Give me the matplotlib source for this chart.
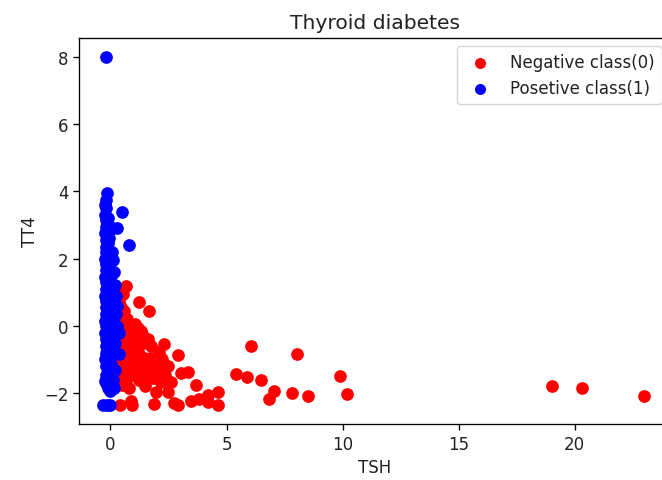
import matplotlib.pyplot as plt

# TSH / TT4 (standardised) for the negative class
neg_tsh = [0.65, 0.56, 1.21, 1.65, 0.56, 0.65, 1.38, 1.0, 1.6, 2.3, 2.08, 2.9,
           6.06, 1.0, 1.3, 1.86, 3.33, 5.4, 5.9, 6.49, 0.56, 1.5, 2.16, 2.6,
           3.68, 1.95, 2.47, 4.2, 4.63, 7.05, 6.84, 0.87, 0.95, 1.86, 2.9,
           3.46, 3.81, 4.2, 4.63, 0.4, 8.05, 9.9, 10.2, 7.8, 8.5, 19.0, 20.3,
           23.0, 0.3, 0.45, 0.7, 0.9, 1.1, 0.35, 0.5, 0.8, 1.2, 1.45, 0.3,
           0.6, 0.75, 1.0, 1.25, 1.7, 0.4, 0.55, 0.9, 1.15, 1.4, 1.75, 2.0,
           0.3, 0.65, 0.85, 1.1, 1.35, 1.6, 1.9, 0.45, 0.7, 1.05, 1.3, 0.35,
           0.6, 0.95, 1.2, 2.2, 2.5, 0.5, 0.8, 1.5, 0.3, 0.4, 0.55, 0.25,
           0.35, 1.8, 2.35, 2.75, 3.05, 0.7, 1.25,
           0.3, 0.45, 0.6, 0.75, 0.95, 1.1, 1.3, 1.45, 1.6, 1.75, 0.4, 0.55,
           0.85, 1.15, 1.35, 0.25, 0.3, 0.5, 0.7, 2.1, 2.4, 1.9, 0.3, 0.35,
           0.4, 0.5]
neg_tt4 = [1.19, 0.95, 0.71, 0.45, 0.30, 0.12, -0.24, -0.39, -0.39, -0.53,
           -0.77, -0.86, -0.59, -0.70, -1.07, -1.19, -1.36, -1.42, -1.51,
           -1.60, -1.50, -1.78, -1.66, -1.66, -1.75, -1.96, -1.96, -2.05,
           -1.96, -1.93, -2.17, -2.23, -2.35, -2.32, -2.35, -2.23, -2.17,
           -2.26, -2.35, -2.35, -0.83, -1.48, -2.02, -2.00, -2.10, -1.80,
           -1.85, -2.10, 0.9, 0.55, 0.2, -0.1, -0.25, -0.4, -0.55, -0.5,
           -0.6, -0.45, -0.75, -0.9, -0.7, -1.0, -0.85, -0.95, -1.1, -1.2,
           -1.3, -1.15, -1.25, -1.4, -1.3, -1.45, -1.55, -1.35, -1.5, -1.6,
           -1.45, -1.2, -0.2, 0.0, 0.05, -0.15, 0.6, 0.45, -0.3, -0.05, -1.0,
           -1.2, -1.7, -1.85, -1.65, -0.95, -0.3, -0.65, 0.1, -1.1, -1.55,
           -1.45, -2.3, -1.4, -0.6, -1.6,
           -0.6, -0.8, -1.1, -1.3, -0.55, -0.75, -0.55, -0.95, -1.15, -0.6,
           -1.35, -0.35, -0.2, -1.5, -1.25, -1.0, -1.6, -1.75, -1.55, -1.35,
           -1.2, -1.55, 0.4, 0.75, 1.05, -0.1]

# TSH / TT4 (standardised) for the positive class
pos_tsh = [-0.2, -0.15, -0.2, -0.25, 0.5, 0.3, 0.8, -0.2, -0.22, -0.18, -0.2,
           -0.24, -0.19, -0.21, -0.2, -0.23, -0.18, -0.2, -0.22, -0.19, -0.2,
           -0.24, -0.21, -0.2, -0.18, -0.22, -0.2, -0.23, -0.19, -0.21, -0.2,
           -0.22, -0.2, -0.18, -0.05, 0.0, -0.05, 0.05, 0.0, -0.02, 0.05,
           0.02, -0.05, 0.0, 0.04, -0.03, 0.1, 0.05, 0.15, 0.2, 0.25, 0.3,
           0.35, 0.35, 0.1, 0.15, 0.2, 0.12, 0.18, -0.3, -0.15, 0.0, -0.1,
           0.0, -0.25, 0.08, 0.3, 0.25,
           -0.1, -0.08, -0.12, -0.1, -0.06, -0.1, -0.12, -0.08, -0.1, -0.05,
           0.02, 0.06, 0.1, 0.04, 0.08, -0.2, -0.18]
pos_tt4 = [8.0, 3.95, 3.75, 3.6, 3.4, 2.9, 2.4, 3.5, 3.3, 3.15, 2.95, 2.75,
           2.55, 2.35, 2.2, 2.0, 1.85, 1.65, 1.45, 1.3, 1.1, 0.9, 0.75, 0.55,
           0.35, 0.15, 0.0, -0.2, -0.4, -0.6, -0.8, -1.0, -1.2, -1.45, 2.6,
           2.2, 1.8, 1.55, 1.3, 1.0, 0.65, 0.3, 0.0, -0.3, -0.6, -1.0, 2.9,
           2.2, 1.6, 1.2, 0.9, 0.6, -0.2, -0.85, -1.6, -1.85, -0.5, 0.2,
           -1.3, -2.35, -2.35, -2.35, -1.85, -1.95, -1.65, -1.75, 0.0, 0.35,
           3.2, 2.85, 2.45, 2.05, 1.7, 1.35, 0.95, 0.45, -0.1, -0.75, -1.15,
           -1.4, 1.95, -0.45, 0.8, -1.7, -1.6]

plt.rcParams['text.color'] = '#222222'
plt.rcParams['axes.labelcolor'] = '#222222'
plt.rcParams['xtick.labelcolor'] = '#222222'
plt.rcParams['ytick.labelcolor'] = '#222222'

fig = plt.figure(figsize=(6.62, 4.81), dpi=100)
# the right side of the axes runs just past the canvas edge
ax = fig.add_axes([0.1198, 0.1164, 0.8923, 0.8025])

ax.scatter(neg_tsh, neg_tt4, color='red', s=66, label='Negative class(0)')
ax.scatter(pos_tsh, pos_tt4, color='blue', s=66, label='Posetive class(1)')

ax.set_title('Thyroid diabetes', fontsize=14.6, pad=7)
ax.set_xlabel('TSH', fontsize=12)
ax.set_ylabel('TT4', fontsize=12)
ax.tick_params(labelsize=12, length=4.2, width=0.96)
for sp in ax.spines.values():
    sp.set_linewidth(0.96)
ax.set_xticks([0, 5, 10, 15, 20])
ax.set_yticks([-2, 0, 2, 4, 6, 8])
ax.set_xlim(-1.34, 24.1)
ax.set_ylim(-2.92, 8.56)
ax.legend(loc='upper right', fontsize=12, markerscale=0.85)

fig.savefig('out.png', dpi=100)
